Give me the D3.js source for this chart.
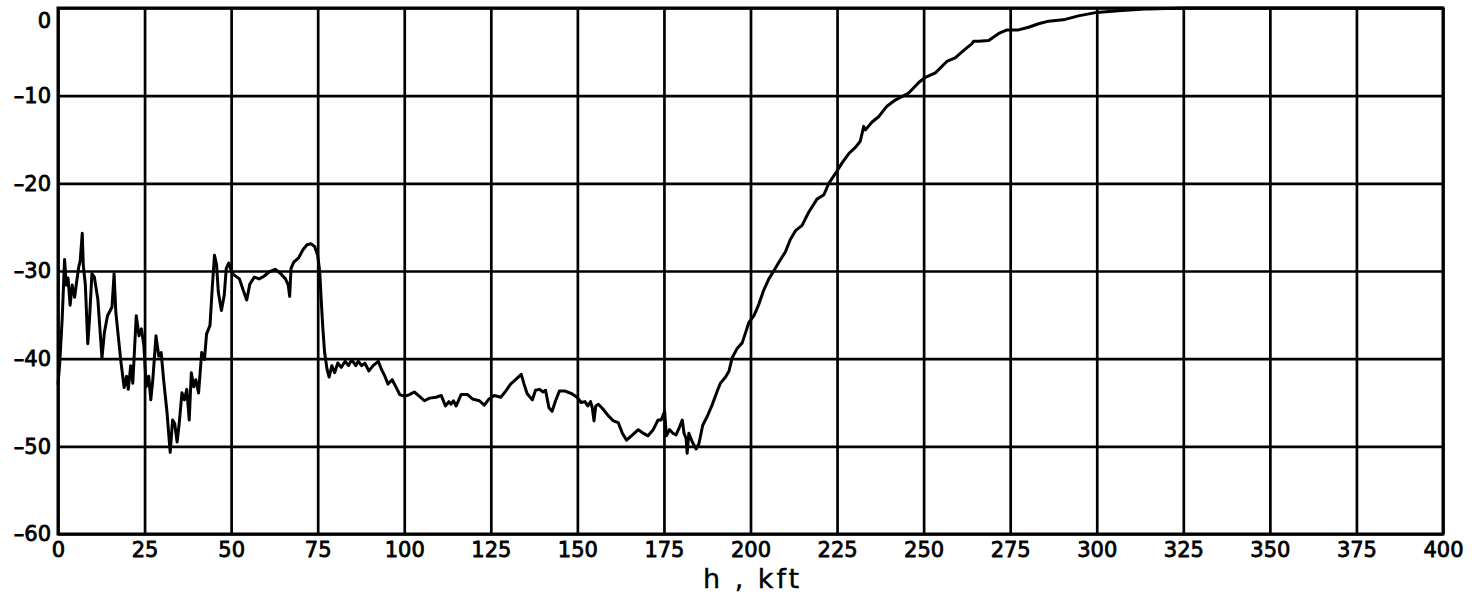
<!DOCTYPE html>
<html>
<head>
<meta charset="utf-8">
<script src="https://cdn.jsdelivr.net/npm/d3@7"></script>
<style>
  html, body { margin: 0; padding: 0; background: #fff; }
  svg { display: block; }
  .tick text { font-family: "DejaVu Sans", sans-serif; font-size: 21px; fill: #000; stroke: #000; stroke-width: 0.8px; }
</style>
</head>
<body>
<svg id="chart" width="1472" height="597"></svg>
<script>
// ---- data ----
const xTicks = [0, 25, 50, 75, 100, 125, 150, 175, 200, 225, 250, 275, 300, 325, 350, 375, 400];
const yTicks = [0, -10, -20, -30, -40, -50, -60];
const xTitle = "h , kft";

const hValues = [
  0,0.5,1.2,1.9,2.4,2.9,3.5,4.1,4.8,5.4,6,6.4,7,7.3,7.9,8.6,9.1,9.8,10.5,11.5,
  12.7,13.4,14.3,15.6,16.2,16.7,17.5,18.1,19.1,19.8,20.3,21,21.6,22.6,23.4,24.1,24.8,25.5,26.2,26.8,
  27.4,28.3,29.1,29.8,30.5,31.5,32.4,33.1,33.7,34.4,35,35.8,36.5,37.2,37.9,38.5,39.2,39.8,40.6,41.5,
  42.3,42.9,43.9,44.6,45.2,45.8,46.3,47.2,48,48.6,49.3,
  50.1,51,52.4,53.5,54.5,55.4,56.7,58.1,59.5,61,62.7,64.3,65.7,66.5,66.9,67.3,68.1,69.5,70.7,71.9,
  73.1,74.1,75,75.6,76,76.5,77,77.7,78.3,79.1,79.9,80.8,81.8,82.9,83.9,84.8,86,86.7,87.7,88.6,
  89.8,91,92.5,93.4,94.4,95.3,96.5,97.7,98.7,100.1,101.5,102.9,104.4,
  105.8,107.3,109.2,110.7,111.9,112.9,113.5,114.2,115,116.4,118.3,119.7,121.7,123.1,124.5,126,127.9,129.3,130.7,132.4,
  133.8,134.6,135.5,137,137.9,139.1,140.1,140.8,141.8,142.7,143.7,144.8,146.5,148.4,149.9,151.1,152.2,153,153.8,154.3,
  154.8,155.3,156.1,157.5,158.9,160.4,161.8,163,164.2,165.6,167.6,169,170.4,171.9,173.3,174.2,175.2,175.7,176.6,177.6,
  178.5,
  179.5,180.3,180.8,181.4,181.7,182.2,183.2,184.3,185.1,186.2,187.5,188.9,190.4,191.3,192.8,193.8,194.7,196.2,197.6,198.6,
  199.5,201,202.4,203.8,205.3,206.7,208.2,210.1,
  211.5,213,214.9,216.8,219.2,221.2,222.6,224.5,226.4,228.4,230.3,231.7,232.7,233.2,235.1,237,239.4,241.8,245.7,248.6,
  250.5,253.4,256.7,259.1,262,263.9,264.4,265.9,268.8,271.7,274.1,277.4,280.3,283.2,286.1,290.9,294.7,300,306.3,314.9,
  325,350,375,400
];
const dbValues = [
  -43,-40.5,-35.5,-28.7,-31.6,-30.8,-33.9,-31.6,-33,-31.2,-29.5,-28.9,-25.7,-29.3,-31.6,-38.3,-35.5,-30.3,-30.7,-33.2,
  -39.9,-37,-35.1,-34.1,-30.3,-34.7,-37.8,-40.1,-43.3,-42,-43.5,-40.8,-42.8,-35.1,-37.4,-36.6,-38.5,-43.2,-42,-44.7,
  -42.3,-37.4,-39.7,-39.3,-42.4,-46.2,-50.7,-47,-47.4,-49.5,-47.4,-43.9,-44.7,-43.5,-47,-41.6,-43.2,-42.4,-43.9,-39.3,
  -40.1,-37.2,-36.2,-31.6,-28.2,-29.3,-32.4,-34.5,-32.8,-29.7,-29.1,
  -30.1,-30.5,-30.9,-32.2,-33.3,-31.5,-30.7,-30.9,-30.6,-30.1,-29.8,-30.3,-30.9,-31.6,-32.9,-29.7,-29,-28.5,-27.6,-27,
  -26.9,-27.2,-28.2,-30.1,-33.2,-36.6,-39.3,-41.2,-42.1,-40.8,-41.6,-40.5,-41,-40.3,-40.8,-40.1,-40.8,-40.3,-40.8,-40.5,
  -41.4,-40.8,-40.3,-41.2,-42,-42.9,-42.4,-43.3,-44.1,-44.3,-44.1,-43.8,-44.3,
  -44.8,-44.5,-44.4,-44.2,-45.4,-44.9,-45.2,-44.8,-45.4,-44.1,-44.1,-44.6,-44.8,-45.3,-44.6,-44.2,-44.4,-43.7,-42.9,-42.3,
  -41.8,-42.9,-44,-44.7,-43.6,-43.5,-43.8,-43.6,-45.6,-46,-44.8,-43.7,-43.7,-44,-44.4,-45,-44.9,-45.4,-44.9,-45.6,
  -47.1,-45.4,-45.2,-45.8,-46.5,-47.1,-47.3,-48.5,-49.3,-48.8,-48.1,-48.5,-48.8,-48.1,-47,-47,-46,-48.8,-48.1,-48.5,
  -48.7,
  -47.8,-47,-48.5,-49.1,-50.8,-48.5,-49.5,-50.3,-49.7,-47.6,-46.6,-45.3,-43.7,-42.8,-42.1,-41.4,-39.9,-38.8,-38.2,-37,
  -35.9,-35.1,-33.8,-32.2,-30.9,-30,-29,-27.8,
  -26.4,-25.4,-24.8,-23.3,-21.8,-21.3,-20,-18.9,-17.7,-16.6,-15.9,-15.2,-13.5,-13.9,-13,-12.4,-11.2,-10.5,-9.7,-8.5,
  -7.9,-7.4,-6.1,-5.7,-4.7,-4.1,-3.8,-3.8,-3.7,-2.9,-2.5,-2.5,-2.2,-1.8,-1.5,-1.3,-0.9,-0.5,-0.3,-0.1,
  0,0,0,0
];

// ---- layout ----
const mLeft = 58, mRight = 1443, mTop = 8, mBottom = 534;
const svg = d3.select("#chart");

const x = d3.scaleLinear().domain([0, 400]).range([mLeft, mRight]);
const y = d3.scaleLinear().domain([-60, 0]).range([mBottom, mTop]);

// vertical grid + x labels
const xAxis = d3.axisBottom(x).tickValues(xTicks).tickSize(-(mBottom - mTop)).tickPadding(8)
  .tickFormat(d => d);
const gx = svg.append("g").attr("transform", `translate(0,${mBottom})`).call(xAxis);
gx.select(".domain").remove();
gx.selectAll(".tick line").attr("stroke", "#000").attr("stroke-width", 2.7);

// horizontal grid + y labels
const yAxis = d3.axisLeft(y).tickValues(yTicks).tickSize(-(mRight - mLeft)).tickPadding(7)
  .tickFormat(d => d < 0 ? "\u2013" + Math.abs(d) : String(d));
const gy = svg.append("g").attr("transform", `translate(${mLeft},0)`).call(yAxis);
gy.select(".domain").remove();
gy.selectAll(".tick line").attr("stroke", "#000").attr("stroke-width", 2.7);
// top label sits below the frame edge, as in the reference
gy.selectAll(".tick text").filter(d => d === 0).attr("dy", "0.95em");

// frame
svg.append("rect")
  .attr("x", mLeft).attr("y", mTop)
  .attr("width", mRight - mLeft).attr("height", mBottom - mTop)
  .attr("fill", "none").attr("stroke", "#000").attr("stroke-width", 3);

// data line
const pts = hValues.map((h, i) => [h, dbValues[i]]);
const line = d3.line().x(d => x(d[0])).y(d => y(d[1])).curve(d3.curveLinear);
svg.append("path")
  .datum(pts)
  .attr("d", line)
  .attr("fill", "none")
  .attr("stroke", "#000")
  .attr("stroke-width", 3)
  .attr("stroke-linejoin", "round");

// x title
svg.append("text")
  .attr("x", x(200) + 2).attr("y", 588)
  .attr("text-anchor", "middle")
  .style("font-family", "'DejaVu Sans', sans-serif")
  .style("font-size", "27px")
  .style("letter-spacing", "3px")
  .style("stroke", "#000")
  .style("stroke-width", "0.4px")
  .style("white-space", "pre")
  .text(xTitle);
</script>
</body>
</html>
